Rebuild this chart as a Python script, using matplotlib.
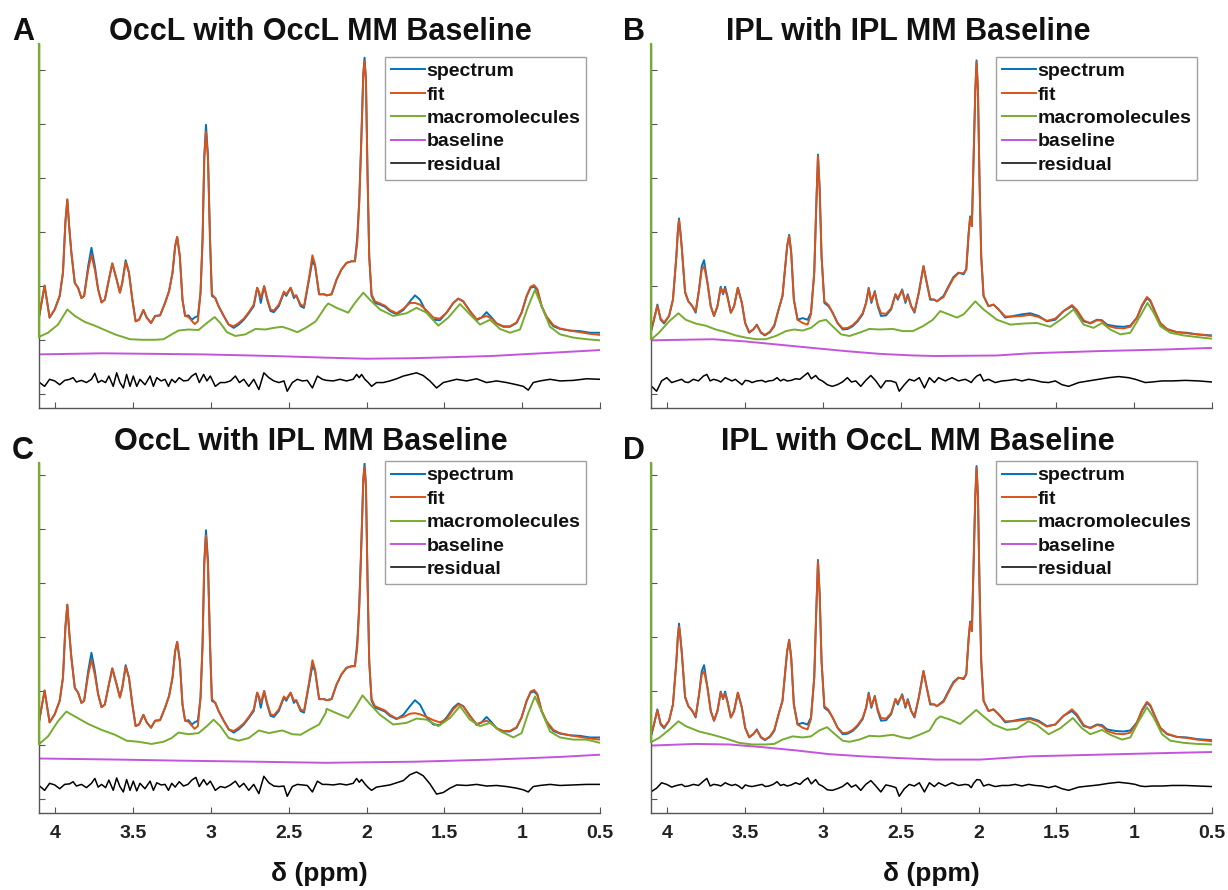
import matplotlib
matplotlib.use('Agg')
import matplotlib.pyplot as plt

plt.rcParams['font.family'] = ['Liberation Sans', 'DejaVu Sans']
plt.rcParams['font.weight'] = 'bold'

# ---------------- data (arbitrary units, y ticks at integers) ----------------
ppm_ticks = [4, 3.5, 3, 2.5, 2, 1.5, 1, 0.5]
tick_labels = ['4', '3.5', '3', '2.5', '2', '1.5', '1', '0.5']
series_names = ['spectrum', 'fit', 'macromolecules', 'baseline', 'residual']
titles = ['OccL with OccL MM Baseline', 'IPL with IPL MM Baseline',
          'OccL with IPL MM Baseline', 'IPL with OccL MM Baseline']
letters = ['A', 'B', 'C', 'D']

# OccL spectrum (panels A and C)
occl_ppm = [4.108, 4.069, 4.037, 4.004, 3.972, 3.951, 3.935, 3.923, 3.911, 3.897, 3.875, 3.854,
            3.832, 3.815, 3.789, 3.768, 3.746, 3.725, 3.703, 3.682, 3.656, 3.634,
            3.606, 3.585, 3.570, 3.548, 3.527, 3.505, 3.484, 3.462, 3.434, 3.413,
            3.385, 3.359, 3.327, 3.295, 3.269, 3.247, 3.230, 3.217, 3.200, 3.183,
            3.166, 3.144, 3.123, 3.105, 3.084, 3.067, 3.054, 3.043, 3.032, 3.019,
            3.006, 2.994, 2.972, 2.951, 2.918, 2.886, 2.854, 2.822, 2.789, 2.757,
            2.725, 2.703, 2.692, 2.680, 2.658, 2.639, 2.617, 2.596, 2.564, 2.531,
            2.516, 2.488, 2.467, 2.452, 2.424, 2.402, 2.370, 2.348, 2.331, 2.305,
            2.273, 2.257, 2.225, 2.193, 2.161, 2.129, 2.096, 2.075, 2.060, 2.047,
            2.034, 2.021, 2.013, 2.004, 1.994, 1.983, 1.968, 1.946, 1.914, 1.882,
            1.850, 1.807, 1.764, 1.721, 1.689, 1.657, 1.614, 1.571, 1.529, 1.486,
            1.443, 1.411, 1.379, 1.336, 1.293, 1.261, 1.229, 1.196, 1.164, 1.121,
            1.079, 1.036, 1.004, 0.971, 0.946, 0.924, 0.903, 0.875, 0.843, 0.800,
            0.757, 0.693, 0.629, 0.564, 0.500]
occl_spec = [1.38, 2.01, 1.42, 1.57, 1.82, 2.25, 3.20, 3.60, 3.10, 2.62, 2.06, 1.97,
             1.78, 1.82, 2.37, 2.71, 2.37, 1.94, 1.70, 1.75, 2.12, 2.42,
             2.12, 1.88, 2.06, 2.48, 2.25, 1.75, 1.35, 1.38, 1.56, 1.42,
             1.32, 1.45, 1.46, 1.69, 1.91, 2.25, 2.74, 2.91, 2.55, 1.75,
             1.45, 1.46, 1.38, 1.42, 1.45, 1.88, 2.86, 4.40, 4.98, 4.40,
             2.86, 1.82, 1.78, 1.63, 1.45, 1.29, 1.23, 1.29, 1.38, 1.50,
             1.63, 1.97, 1.88, 1.69, 2.00, 1.75, 1.54, 1.52, 1.63, 1.88,
             1.82, 1.97, 1.78, 1.83, 1.63, 1.60, 2.12, 2.47, 2.37, 1.85,
             1.85, 1.83, 1.85, 2.12, 2.31, 2.43, 2.46, 2.46, 2.90, 3.60,
             4.71, 5.94, 6.22, 5.82, 4.09, 2.55, 1.82, 1.69, 1.66, 1.62,
             1.54, 1.48, 1.56, 1.72, 1.83, 1.75, 1.51, 1.38, 1.37, 1.51,
             1.69, 1.77, 1.72, 1.54, 1.37, 1.42, 1.52, 1.42, 1.31, 1.25,
             1.25, 1.32, 1.51, 1.82, 1.97, 1.99, 1.93, 1.63, 1.42, 1.26,
             1.21, 1.18, 1.17, 1.14, 1.14]
fit_A = [1.38, 2.01, 1.42, 1.57, 1.82, 2.25, 3.20, 3.60, 3.10, 2.62, 2.06, 1.97,
         1.78, 1.82, 2.30, 2.58, 2.30, 1.94, 1.70, 1.75, 2.12, 2.42,
         2.12, 1.88, 2.06, 2.45, 2.25, 1.75, 1.35, 1.38, 1.56, 1.42,
         1.32, 1.45, 1.46, 1.69, 1.91, 2.25, 2.74, 2.91, 2.55, 1.75,
         1.45, 1.43, 1.36, 1.30, 1.35, 1.88, 2.86, 4.35, 4.86, 4.35,
         2.86, 1.85, 1.78, 1.63, 1.45, 1.29, 1.26, 1.32, 1.40, 1.52,
         1.66, 1.97, 1.90, 1.78, 2.00, 1.78, 1.57, 1.55, 1.66, 1.90,
         1.85, 1.97, 1.82, 1.83, 1.66, 1.63, 2.15, 2.57, 2.40, 1.85,
         1.85, 1.83, 1.85, 2.12, 2.31, 2.43, 2.46, 2.46, 2.80, 3.55,
         4.65, 5.90, 6.16, 5.80, 4.09, 2.55, 1.85, 1.72, 1.68, 1.64,
         1.56, 1.50, 1.58, 1.69, 1.69, 1.66, 1.55, 1.42, 1.40, 1.51,
         1.69, 1.77, 1.72, 1.54, 1.39, 1.42, 1.45, 1.40, 1.31, 1.26,
         1.26, 1.33, 1.51, 1.82, 1.99, 2.02, 1.95, 1.63, 1.44, 1.28,
         1.22, 1.18, 1.15, 1.12, 1.10]
fit_C = [1.38, 2.01, 1.42, 1.57, 1.82, 2.25, 3.20, 3.60, 3.10, 2.62, 2.06, 1.97,
         1.78, 1.82, 2.30, 2.58, 2.30, 1.94, 1.70, 1.75, 2.12, 2.42,
         2.12, 1.88, 2.06, 2.45, 2.25, 1.75, 1.35, 1.38, 1.56, 1.42,
         1.32, 1.45, 1.46, 1.69, 1.91, 2.25, 2.74, 2.91, 2.55, 1.75,
         1.45, 1.43, 1.36, 1.30, 1.35, 1.88, 2.86, 4.33, 4.89, 4.33,
         2.86, 1.85, 1.78, 1.63, 1.45, 1.29, 1.26, 1.32, 1.40, 1.52,
         1.66, 1.97, 1.90, 1.78, 2.00, 1.78, 1.57, 1.55, 1.66, 1.90,
         1.85, 1.97, 1.82, 1.83, 1.66, 1.63, 2.15, 2.57, 2.40, 1.85,
         1.85, 1.83, 1.85, 2.12, 2.31, 2.43, 2.46, 2.46, 2.80, 3.55,
         4.65, 5.90, 6.16, 5.80, 4.09, 2.55, 1.85, 1.72, 1.68, 1.64,
         1.56, 1.49, 1.52, 1.58, 1.59, 1.57, 1.52, 1.46, 1.42, 1.48,
         1.66, 1.75, 1.72, 1.54, 1.39, 1.42, 1.45, 1.40, 1.31, 1.26,
         1.26, 1.33, 1.51, 1.82, 1.99, 2.02, 1.95, 1.63, 1.44, 1.28,
         1.22, 1.18, 1.15, 1.12, 1.10]

# IPL spectrum (panels B and D)
ipl_ppm = [4.101, 4.086, 4.064, 4.043, 4.021, 3.989, 3.964, 3.942, 3.933, 3.925, 3.916, 3.908,
           3.886, 3.865, 3.839, 3.818, 3.796, 3.779, 3.764, 3.742, 3.721, 3.700,
           3.678, 3.657, 3.642, 3.629, 3.614, 3.592, 3.571, 3.547, 3.521, 3.500,
           3.474, 3.448, 3.425, 3.399, 3.373, 3.341, 3.313, 3.285, 3.260, 3.242,
           3.230, 3.217, 3.204, 3.187, 3.163, 3.131, 3.099, 3.077, 3.056, 3.043,
           3.032, 3.021, 3.009, 2.991, 2.964, 2.938, 2.906, 2.873, 2.841, 2.809,
           2.777, 2.745, 2.723, 2.706, 2.689, 2.667, 2.648, 2.627, 2.594, 2.562,
           2.534, 2.519, 2.491, 2.470, 2.455, 2.433, 2.412, 2.384, 2.354, 2.337,
           2.311, 2.283, 2.268, 2.225, 2.193, 2.161, 2.129, 2.096, 2.079, 2.064,
           2.054, 2.043, 2.032, 2.021, 2.013, 2.004, 1.994, 1.983, 1.968, 1.936,
           1.904, 1.871, 1.829, 1.775, 1.721, 1.668, 1.614, 1.561, 1.507, 1.454,
           1.400, 1.368, 1.325, 1.282, 1.239, 1.207, 1.175, 1.121, 1.068, 1.025,
           0.982, 0.950, 0.918, 0.896, 0.864, 0.832, 0.789, 0.725, 0.661, 0.596,
           0.500]
ipl_spec = [1.20, 1.38, 1.66, 1.38, 1.31, 1.45, 1.75, 2.55, 3.00, 3.25, 3.00, 2.74,
            1.88, 1.72, 1.63, 1.51, 1.94, 2.37, 2.48, 2.06, 1.63, 1.45,
            1.63, 1.99, 1.85, 1.99, 1.82, 1.51, 1.63, 1.97, 1.69, 1.32,
            1.14, 1.20, 1.29, 1.14, 1.09, 1.15, 1.26, 1.57, 1.82, 2.37,
            2.74, 2.95, 2.62, 1.75, 1.38, 1.41, 1.38, 1.51, 2.25, 3.48,
            4.43, 3.78, 2.55, 1.69, 1.63, 1.51, 1.32, 1.20, 1.21, 1.26,
            1.35, 1.48, 1.69, 1.97, 1.69, 1.91, 1.63, 1.45, 1.46, 1.57,
            1.85, 1.75, 1.94, 1.69, 1.85, 1.63, 1.51, 1.88, 2.37, 2.12,
            1.75, 1.75, 1.72, 1.82, 2.00, 2.17, 2.25, 2.22, 2.31, 2.98,
            3.29, 3.11, 4.40, 5.63, 6.17, 5.63, 3.97, 2.55, 1.82, 1.63,
            1.66, 1.57, 1.42, 1.45, 1.48, 1.50, 1.45, 1.35, 1.38, 1.54,
            1.63, 1.54, 1.35, 1.32, 1.38, 1.37, 1.29, 1.26, 1.25, 1.27,
            1.42, 1.63, 1.78, 1.72, 1.51, 1.31, 1.20, 1.15, 1.14, 1.11,
            1.09]
fit_B = [1.22, 1.38, 1.64, 1.40, 1.33, 1.45, 1.75, 2.55, 2.98, 3.22, 2.98, 2.74,
         1.90, 1.72, 1.63, 1.53, 1.94, 2.30, 2.37, 2.06, 1.63, 1.45,
         1.63, 1.97, 1.87, 1.95, 1.80, 1.51, 1.63, 1.97, 1.69, 1.32,
         1.15, 1.20, 1.28, 1.15, 1.10, 1.16, 1.28, 1.57, 1.82, 2.37,
         2.74, 2.93, 2.62, 1.75, 1.38, 1.32, 1.29, 1.48, 2.25, 3.48,
         4.40, 3.78, 2.55, 1.72, 1.65, 1.51, 1.32, 1.22, 1.23, 1.28,
         1.37, 1.50, 1.69, 1.95, 1.72, 1.89, 1.66, 1.50, 1.49, 1.59,
         1.85, 1.78, 1.92, 1.72, 1.83, 1.63, 1.53, 1.88, 2.37, 2.12,
         1.77, 1.75, 1.72, 1.80, 1.98, 2.15, 2.24, 2.24, 2.31, 2.95,
         3.27, 3.11, 4.38, 5.60, 6.14, 5.60, 3.97, 2.55, 1.82, 1.63,
         1.66, 1.57, 1.44, 1.44, 1.45, 1.47, 1.43, 1.36, 1.40, 1.54,
         1.65, 1.56, 1.37, 1.31, 1.37, 1.36, 1.27, 1.23, 1.22, 1.25,
         1.42, 1.65, 1.80, 1.74, 1.52, 1.32, 1.21, 1.15, 1.13, 1.11,
         1.08]
fit_D = [1.22, 1.38, 1.64, 1.40, 1.33, 1.45, 1.75, 2.55, 2.97, 3.20, 2.97, 2.74,
         1.90, 1.72, 1.63, 1.53, 1.94, 2.30, 2.37, 2.06, 1.63, 1.45,
         1.63, 1.97, 1.87, 1.95, 1.80, 1.51, 1.63, 1.97, 1.69, 1.32,
         1.15, 1.20, 1.28, 1.15, 1.10, 1.16, 1.28, 1.57, 1.82, 2.37,
         2.74, 2.93, 2.62, 1.75, 1.38, 1.32, 1.29, 1.48, 2.25, 3.48,
         4.40, 3.78, 2.55, 1.72, 1.65, 1.51, 1.32, 1.22, 1.23, 1.28,
         1.37, 1.50, 1.69, 1.95, 1.72, 1.89, 1.66, 1.50, 1.49, 1.59,
         1.85, 1.78, 1.92, 1.72, 1.83, 1.63, 1.53, 1.88, 2.37, 2.12,
         1.77, 1.75, 1.72, 1.80, 1.98, 2.15, 2.24, 2.24, 2.31, 2.95,
         3.27, 3.11, 4.38, 5.60, 6.14, 5.60, 3.97, 2.55, 1.82, 1.63,
         1.66, 1.57, 1.44, 1.44, 1.46, 1.48, 1.43, 1.34, 1.38, 1.54,
         1.66, 1.57, 1.37, 1.31, 1.37, 1.35, 1.26, 1.21, 1.20, 1.23,
         1.42, 1.65, 1.80, 1.74, 1.52, 1.32, 1.21, 1.15, 1.13, 1.10,
         1.07]

# macromolecule curves
mmA_ppm = [4.108, 4.047, 3.983, 3.923, 3.875, 3.811, 3.746, 3.682, 3.617, 3.553,
           3.520, 3.445, 3.359, 3.305, 3.252, 3.209, 3.144, 3.080, 3.026, 2.976,
           2.940, 2.897, 2.843, 2.779, 2.714, 2.650, 2.596, 2.542, 2.499, 2.445,
           2.391, 2.327, 2.262, 2.246, 2.193, 2.118, 2.075, 2.021, 1.979, 1.914,
           1.829, 1.743, 1.679, 1.614, 1.539, 1.475, 1.400, 1.336, 1.271, 1.207,
           1.143, 1.079, 1.014, 0.961, 0.918, 0.875, 0.821, 0.757, 0.671, 0.586,
           0.500]
mmA = [1.06, 1.14, 1.29, 1.57, 1.45, 1.34, 1.27, 1.19, 1.11, 1.05,
       1.02, 1.01, 1.01, 1.02, 1.11, 1.18, 1.20, 1.19, 1.32, 1.43,
       1.32, 1.15, 1.08, 1.11, 1.21, 1.20, 1.23, 1.25, 1.21, 1.15,
       1.23, 1.35, 1.63, 1.68, 1.60, 1.51, 1.69, 1.88, 1.75, 1.57,
       1.45, 1.50, 1.60, 1.51, 1.27, 1.42, 1.67, 1.48, 1.29, 1.38,
       1.21, 1.14, 1.20, 1.63, 1.93, 1.63, 1.25, 1.11, 1.05, 1.02,
       1.00]
mmB_ppm = [4.101, 4.054, 3.989, 3.929, 3.882, 3.818, 3.753, 3.689, 3.624, 3.560,
           3.496, 3.431, 3.367, 3.303, 3.238, 3.185, 3.131, 3.077, 3.024, 2.981,
           2.938, 2.884, 2.830, 2.766, 2.702, 2.637, 2.551, 2.487, 2.423, 2.358,
           2.294, 2.246, 2.139, 2.096, 2.021, 1.968, 1.882, 1.796, 1.711, 1.625,
           1.539, 1.454, 1.389, 1.325, 1.261, 1.207, 1.154, 1.089, 1.025, 0.961,
           0.914, 0.875, 0.832, 0.768, 0.682, 0.596, 0.500]
mmB = [1.02, 1.14, 1.35, 1.50, 1.38, 1.31, 1.27, 1.20, 1.15, 1.09,
       1.05, 1.02, 1.02, 1.08, 1.17, 1.20, 1.18, 1.23, 1.35, 1.38,
       1.26, 1.11, 1.08, 1.14, 1.21, 1.20, 1.21, 1.17, 1.17, 1.26,
       1.38, 1.54, 1.42, 1.48, 1.72, 1.57, 1.38, 1.29, 1.31, 1.32,
       1.25, 1.42, 1.57, 1.29, 1.23, 1.32, 1.20, 1.11, 1.14, 1.45,
       1.69, 1.51, 1.26, 1.14, 1.09, 1.06, 1.03]
mmC_ppm = [4.108, 4.047, 3.983, 3.929, 3.875, 3.789, 3.703, 3.617, 3.542, 3.467,
           3.381, 3.305, 3.252, 3.209, 3.144, 3.080, 3.026, 2.983, 2.940, 2.886,
           2.822, 2.757, 2.692, 2.628, 2.542, 2.477, 2.424, 2.370, 2.305, 2.262,
           2.257, 2.193, 2.118, 2.075, 2.026, 1.979, 1.914, 1.829, 1.743, 1.679,
           1.614, 1.539, 1.464, 1.400, 1.336, 1.271, 1.207, 1.143, 1.057, 1.004,
           0.961, 0.918, 0.875, 0.821, 0.757, 0.671, 0.586, 0.500]
mmC = [1.01, 1.16, 1.44, 1.62, 1.53, 1.39, 1.28, 1.19, 1.08, 1.06,
       1.02, 1.06, 1.13, 1.23, 1.20, 1.22, 1.35, 1.47, 1.35, 1.13,
       1.08, 1.13, 1.27, 1.22, 1.27, 1.20, 1.19, 1.28, 1.38, 1.60,
       1.67, 1.59, 1.50, 1.68, 1.92, 1.76, 1.56, 1.38, 1.41, 1.49,
       1.47, 1.35, 1.50, 1.72, 1.47, 1.35, 1.41, 1.26, 1.14, 1.22,
       1.59, 1.90, 1.62, 1.25, 1.14, 1.10, 1.10, 1.04]
mmD_ppm = [4.101, 4.054, 3.989, 3.929, 3.882, 3.796, 3.710, 3.624, 3.539, 3.453,
           3.367, 3.313, 3.260, 3.195, 3.131, 3.077, 3.024, 2.974, 2.927, 2.873,
           2.830, 2.766, 2.702, 2.637, 2.551, 2.487, 2.444, 2.380, 2.315, 2.273,
           2.246, 2.182, 2.118, 2.075, 2.015, 1.968, 1.904, 1.818, 1.754, 1.679,
           1.625, 1.550, 1.475, 1.394, 1.336, 1.282, 1.207, 1.154, 1.079, 1.025,
           0.971, 0.918, 0.875, 0.821, 0.768, 0.682, 0.596, 0.500]
mmD = [1.06, 1.13, 1.28, 1.44, 1.35, 1.25, 1.19, 1.12, 1.04, 1.01,
       1.01, 1.02, 1.10, 1.16, 1.14, 1.16, 1.27, 1.33, 1.21, 1.08,
       1.06, 1.10, 1.17, 1.16, 1.19, 1.14, 1.12, 1.19, 1.27, 1.47,
       1.53, 1.47, 1.39, 1.50, 1.65, 1.53, 1.38, 1.28, 1.30, 1.44,
       1.37, 1.20, 1.31, 1.50, 1.31, 1.20, 1.28, 1.19, 1.10, 1.14,
       1.44, 1.70, 1.51, 1.20, 1.08, 1.04, 1.02, 1.01]

# baselines
blA_ppm = [4.108, 3.700, 3.050, 2.600, 2.262, 2.000, 1.700, 1.440, 1.200, 1.010, 0.750, 0.500]
blA = [0.74, 0.76, 0.74, 0.71, 0.68, 0.66, 0.67, 0.69, 0.71, 0.74, 0.78, 0.82]
blB_ppm = [4.101, 3.710, 3.500, 3.285, 3.070, 2.850, 2.637, 2.420, 2.280, 1.882, 1.668, 1.239, 0.810, 0.500]
blB = [1.00, 1.02, 0.98, 0.92, 0.86, 0.80, 0.75, 0.72, 0.71, 0.72, 0.76, 0.80, 0.83, 0.86]
blC_ppm = [4.108, 3.600, 3.200, 2.700, 2.262, 2.000, 1.700, 1.440, 1.200, 1.010, 0.750, 0.500]
blC = [0.75, 0.73, 0.71, 0.69, 0.67, 0.68, 0.69, 0.71, 0.73, 0.75, 0.78, 0.82]
blD_ppm = [4.101, 3.818, 3.603, 3.388, 3.174, 2.959, 2.745, 2.530, 2.273, 1.989, 1.668, 1.239, 0.811, 0.500]
blD = [0.99, 1.02, 1.01, 0.96, 0.90, 0.83, 0.79, 0.76, 0.73, 0.73, 0.79, 0.82, 0.85, 0.87]

# residuals (shared ppm sampling)
res_ppm = [4.101, 4.069, 4.037, 4.004, 3.972, 3.940, 3.908, 3.886, 3.865, 3.832,
           3.800, 3.768, 3.746, 3.725, 3.703, 3.677, 3.656, 3.628, 3.606, 3.585,
           3.563, 3.542, 3.520, 3.499, 3.477, 3.456, 3.424, 3.391, 3.370, 3.348,
           3.320, 3.295, 3.273, 3.252, 3.230, 3.204, 3.176, 3.148, 3.123, 3.097,
           3.075, 3.047, 3.026, 3.004, 2.972, 2.940, 2.908, 2.875, 2.843, 2.817,
           2.789, 2.757, 2.725, 2.692, 2.660, 2.628, 2.596, 2.563, 2.531, 2.510,
           2.477, 2.445, 2.413, 2.381, 2.348, 2.316, 2.284,
           2.257, 2.214, 2.171, 2.129, 2.086, 2.064, 2.047, 2.032, 2.011, 1.989,
           1.968, 1.936, 1.893, 1.850, 1.807, 1.764, 1.721, 1.679, 1.636, 1.593,
           1.550, 1.507, 1.464, 1.421, 1.357, 1.293, 1.229, 1.164, 1.100, 1.036,
           0.993, 0.961, 0.929, 0.886, 0.821, 0.757, 0.671, 0.586, 0.500]
resA = [0.22, 0.15, 0.28, 0.25, 0.18, 0.26, 0.28, 0.31, 0.23, 0.26,
        0.22, 0.28, 0.39, 0.22, 0.26, 0.22, 0.34, 0.15, 0.40, 0.22,
        0.12, 0.37, 0.15, 0.34, 0.15, 0.28, 0.18, 0.34, 0.15, 0.31,
        0.25, 0.28, 0.15, 0.28, 0.22, 0.31, 0.25, 0.26, 0.34, 0.39,
        0.22, 0.37, 0.25, 0.34, 0.15, 0.22, 0.22, 0.25, 0.34, 0.22,
        0.28, 0.15, 0.28, 0.09, 0.40, 0.31, 0.25, 0.22, 0.25, 0.06,
        0.22, 0.28, 0.25, 0.26, 0.12, 0.34, 0.28,
        0.26, 0.25, 0.28, 0.25, 0.28, 0.37, 0.31, 0.37, 0.28, 0.22,
        0.15, 0.22, 0.22, 0.25, 0.29, 0.34, 0.37, 0.40, 0.35, 0.25,
        0.12, 0.22, 0.25, 0.28, 0.25, 0.29, 0.22, 0.25, 0.22, 0.18,
        0.15, 0.08, 0.22, 0.25, 0.28, 0.25, 0.26, 0.29, 0.28]
resB = [0.15, 0.06, 0.25, 0.31, 0.22, 0.25, 0.28, 0.23, 0.22, 0.28,
        0.25, 0.34, 0.37, 0.25, 0.28, 0.26, 0.23, 0.31, 0.28, 0.25,
        0.28, 0.23, 0.18, 0.26, 0.25, 0.22, 0.25, 0.26, 0.23, 0.25,
        0.26, 0.31, 0.25, 0.28, 0.25, 0.26, 0.29, 0.28, 0.34, 0.40,
        0.29, 0.35, 0.28, 0.25, 0.18, 0.15, 0.18, 0.23, 0.31, 0.23,
        0.25, 0.15, 0.26, 0.35, 0.25, 0.12, 0.25, 0.25, 0.22, 0.06,
        0.18, 0.28, 0.25, 0.31, 0.12, 0.31, 0.22,
        0.31, 0.25, 0.31, 0.25, 0.28, 0.25, 0.22, 0.28, 0.34, 0.37,
        0.25, 0.28, 0.22, 0.25, 0.26, 0.28, 0.25, 0.28, 0.26, 0.23,
        0.22, 0.25, 0.18, 0.15, 0.22, 0.25, 0.28, 0.31, 0.33, 0.31,
        0.28, 0.25, 0.22, 0.23, 0.25, 0.25, 0.26, 0.25, 0.23]
resC = [0.24, 0.16, 0.29, 0.26, 0.19, 0.27, 0.28, 0.32, 0.24, 0.27,
        0.21, 0.29, 0.38, 0.22, 0.27, 0.21, 0.35, 0.16, 0.39, 0.23,
        0.13, 0.36, 0.16, 0.33, 0.15, 0.29, 0.19, 0.33, 0.16, 0.30,
        0.26, 0.27, 0.16, 0.29, 0.22, 0.32, 0.24, 0.27, 0.35, 0.40,
        0.23, 0.36, 0.26, 0.33, 0.16, 0.23, 0.21, 0.26, 0.33, 0.22,
        0.29, 0.16, 0.27, 0.10, 0.42, 0.30, 0.24, 0.23, 0.24, 0.05,
        0.23, 0.27, 0.26, 0.25, 0.13, 0.33, 0.27,
        0.27, 0.26, 0.28, 0.26, 0.29, 0.38, 0.31, 0.36, 0.28, 0.21,
        0.16, 0.22, 0.24, 0.26, 0.30, 0.34, 0.45, 0.50, 0.43, 0.28,
        0.09, 0.12, 0.20, 0.26, 0.25, 0.27, 0.24, 0.25, 0.23, 0.20,
        0.17, 0.13, 0.23, 0.25, 0.27, 0.25, 0.26, 0.27, 0.27]
resD = [0.14, 0.20, 0.30, 0.27, 0.22, 0.25, 0.27, 0.23, 0.24, 0.27,
        0.25, 0.33, 0.38, 0.24, 0.27, 0.26, 0.24, 0.30, 0.27, 0.25,
        0.27, 0.24, 0.19, 0.26, 0.24, 0.23, 0.25, 0.27, 0.23, 0.24,
        0.27, 0.32, 0.25, 0.27, 0.24, 0.26, 0.30, 0.27, 0.34, 0.39,
        0.28, 0.36, 0.27, 0.24, 0.17, 0.16, 0.19, 0.23, 0.30, 0.22,
        0.26, 0.16, 0.27, 0.34, 0.24, 0.13, 0.26, 0.24, 0.21, 0.05,
        0.19, 0.27, 0.24, 0.30, 0.13, 0.30, 0.23,
        0.30, 0.24, 0.30, 0.25, 0.27, 0.26, 0.21, 0.29, 0.36, 0.35,
        0.24, 0.27, 0.23, 0.25, 0.25, 0.27, 0.24, 0.27, 0.25, 0.24,
        0.21, 0.24, 0.19, 0.16, 0.22, 0.24, 0.26, 0.29, 0.31, 0.29,
        0.27, 0.24, 0.23, 0.24, 0.24, 0.25, 0.25, 0.24, 0.23]

# ---------------- styling / layout ----------------
C_SPEC = '#0072BD'
C_FIT = '#D95319'
C_MM = '#77AC30'
C_BL = '#C455DA'
C_RES = '#000000'
AX_GRAY = '#555555'

W, H = 1228, 890
fig = plt.figure(figsize=(W / 100, H / 100), dpi=100)

panels = [
    dict(ppm=occl_ppm, spec=occl_spec, fit=fit_A, mmx=mmA_ppm, mm=mmA, blx=blA_ppm, bl=blA, res=resA,
         box=(39, 600, 43.6, 408), ylim=(-0.25, 6.48), title_x=320, title_y=39.5, letter=(23, 39.5),
         leg=(586, 56.7), bottom=False),
    dict(ppm=ipl_ppm, spec=ipl_spec, fit=fit_B, mmx=mmB_ppm, mm=mmB, blx=blB_ppm, bl=blB, res=resB,
         box=(651, 1212, 43.6, 408), ylim=(-0.25, 6.48), title_x=908, title_y=39.5, letter=(634, 39.5),
         leg=(1197, 56.7), bottom=False),
    dict(ppm=occl_ppm, spec=occl_spec, fit=fit_C, mmx=mmC_ppm, mm=mmC, blx=blC_ppm, bl=blC, res=resC,
         box=(39, 600, 463.3, 813), ylim=(-0.26, 6.22), title_x=311, title_y=449.5, letter=(23, 459.5),
         leg=(586, 461), bottom=True),
    dict(ppm=ipl_ppm, spec=ipl_spec, fit=fit_D, mmx=mmD_ppm, mm=mmD, blx=blD_ppm, bl=blD, res=resD,
         box=(651, 1212, 463.3, 813), ylim=(-0.26, 6.22), title_x=918, title_y=449.5, letter=(634, 459.5),
         leg=(1197, 461), bottom=True),
]

XLIM = (4.105, 0.5)

for i, p in enumerate(panels):
    x0, x1, yt, yb = p['box']
    ax = fig.add_axes([x0 / W, 1 - yb / H, (x1 - x0) / W, (yb - yt) / H])
    ls = ax.plot(p['ppm'], p['spec'], color=C_SPEC, lw=1.4, label=series_names[0])[0]
    lf = ax.plot(p['ppm'], p['fit'], color=C_FIT, lw=1.4, label=series_names[1])[0]
    lm = ax.plot(p['mmx'], p['mm'], color=C_MM, lw=1.4, label=series_names[2])[0]
    lb = ax.plot(p['blx'], p['bl'], color=C_BL, lw=1.4, label=series_names[3])[0]
    lr = ax.plot(res_ppm, p['res'], color=C_RES, lw=1.1, label=series_names[4])[0]
    ax.set_xlim(*XLIM)
    ax.set_ylim(*p['ylim'])
    # green segment on the left spine (macromolecule trace edge)
    ax.plot([XLIM[0], XLIM[0]], [p['mm'][0], p['ylim'][1]], color=C_MM, lw=1.6,
            clip_on=False, zorder=5)
    for s in ('top', 'right'):
        ax.spines[s].set_visible(False)
    for s in ('left', 'bottom'):
        ax.spines[s].set_color(AX_GRAY)
        ax.spines[s].set_linewidth(1.0)
    ax.set_yticks(range(0, 7))
    ax.set_yticklabels([])
    ax.set_xticks(ppm_ticks)
    if p['bottom']:
        ax.set_xticklabels(tick_labels, fontsize=14, fontweight='bold')
    else:
        ax.set_xticklabels([])
    ax.tick_params(axis='both', direction='in', length=4, width=0.8, color=AX_GRAY, pad=9)
    ax.tick_params(axis='x', labelcolor='#222222')
    ax.patch.set_alpha(0)

    leg = ax.legend(handles=[ls, lf, lm, lb, lr], loc='upper right',
                    bbox_to_anchor=(p['leg'][0] / W, 1 - p['leg'][1] / H),
                    bbox_transform=fig.transFigure, fontsize=14, frameon=True,
                    fancybox=False, borderpad=0.3, labelspacing=0.3,
                    handlelength=1.75, handletextpad=0.05, borderaxespad=0)
    leg.get_frame().set_edgecolor('#8a8a8a')
    leg.get_frame().set_linewidth(1.0)
    for t in leg.get_texts():
        t.set_fontweight('bold')
        t.set_color('#111111')

    fig.text(p['title_x'] / W, 1 - p['title_y'] / H, titles[i], ha='center', va='baseline',
             fontsize=22, fontweight='bold', color='#111111')
    fig.text(p['letter'][0] / W, 1 - p['letter'][1] / H, letters[i], ha='center', va='baseline',
             fontsize=22, fontweight='bold', color='#111111')
    if p['bottom']:
        fig.text((x0 + x1) / 2 / W, 1 - 874 / H, 'δ (ppm)', ha='center', va='center',
                 fontsize=19, fontweight='bold', color='#111111')

fig.savefig('out.png', dpi=100)
